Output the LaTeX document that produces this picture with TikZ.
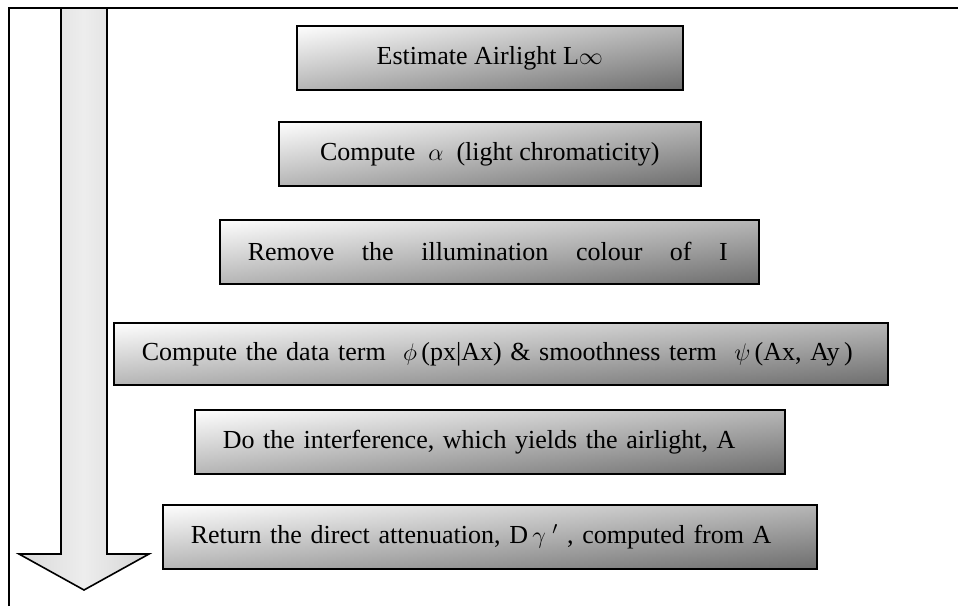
\documentclass[tikz,border=0pt]{standalone}
\usepackage{fontspec}
\setmainfont{Liberation Serif}

\tikzset{
  stepbox/.style={draw, line width=0.8pt, anchor=north west, minimum height=32pt,
    inner xsep=14pt, inner ysep=0pt, font=\fontsize{13}{15}\selectfont,
    path picture={
      \shade[left color=white, right color=black!57]
        (path picture bounding box.south west) rectangle (path picture bounding box.north east);
      \shade[top color=white, bottom color=black!57, opacity=0.5]
        (path picture bounding box.south west) rectangle (path picture bounding box.north east);
    }},
  leftbox/.style={stepbox, align=left, text width=#1}
}

\begin{document}
\begin{tikzpicture}[x=0.5pt, y=-0.5pt]
\useasboundingbox (0,0) rectangle (958,606);

% frame
\draw[line width=1pt] (9,606) -- (9,8) -- (958,8);

% big arrow down
\shade[draw, line width=0.8pt, left color=black!15, right color=black!17, middle color=black!7]
  (61,8) -- (61,554) -- (19,554) -- (84,590) -- (149,554) -- (107,554) -- (107,8) -- cycle;

% step 1
\node[stepbox, minimum width=193pt] (est) at (296,25) {Estimate Airlight L$\infty$};

% step 2
\node[stepbox, minimum width=211pt] (chroma) at (278,121) {Compute \ $\alpha$ \ (light chromaticity)};

% step 3
\node[leftbox=241.5pt] (remove) at (219,219)
  {\makebox[240pt]{Remove\hfill the\hfill illumination\hfill colour\hfill of\hfill I}};

% step 4
\node[leftbox=359pt, minimum height=31pt] (terms) at (113,322)
  {Compute the data term \ $\phi$\,(px|Ax) \& smoothness term \ $\psi$\,(Ax, Ay\,)};

% step 5
\node[leftbox=267pt] (infer) at (194,409) {Do the interference, which yields the airlight, A};

% step 6
\node[leftbox=299pt] (ret) at (162,504) {Return the direct attenuation, D\,$\gamma\;^{\prime}$\ , computed from A};

\end{tikzpicture}
\end{document}
